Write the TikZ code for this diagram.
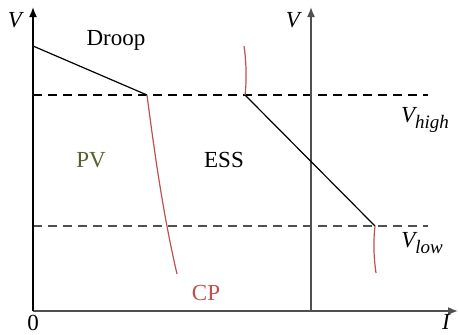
\documentclass[tikz,border=0pt]{standalone}
\usepackage{fontspec}
\setmainfont{Liberation Serif}
\usetikzlibrary{arrows.meta}

\definecolor{cpred}{RGB}{192,80,77}
\definecolor{pvolive}{RGB}{85,98,45}
\definecolor{axgray}{RGB}{80,80,80}

\begin{document}
\begin{tikzpicture}[x=0.5pt, y=0.5pt, font=\fontsize{11.5}{13}\selectfont,
  axis/.style={line width=0.8pt, -{Latex[length=5pt,width=4pt]}},
  level/.style={dashed, dash pattern=on 4.5pt off 3pt, line width=0.6pt},
  droop/.style={line width=0.6pt},
  cp/.style={cpred, line width=0.6pt}]

\useasboundingbox (0,0) rectangle (459,334);

% =============================================================================
% Droop / CP operating regions on the V-I plane
% =============================================================================

% --- Key points -------------------------------------------------------------
\coordinate (o)     at (33,23);
\coordinate (vtop)  at (33,327);
\coordinate (iend)  at (458,23);
\coordinate (essb)  at (311,23);
\coordinate (esst)  at (311,327);
\coordinate (d0)    at (33,288);   % droop start
\coordinate (pvk)   at (147,239);  % PV knee
\coordinate (pvend) at (177,60);
\coordinate (essh)  at (245,239);  % ESS at V_high
\coordinate (essl)  at (375,108);  % ESS at V_low
\coordinate (hiL)   at (33,239);
\coordinate (hiR)   at (428,239);
\coordinate (loL)   at (33,108);
\coordinate (loR)   at (428,108);

% --- Voltage thresholds -----------------------------------------------------
\draw[level] (hiL) -- (hiR);
\draw[level, axgray] (loL) -- (loR);

% --- Axes -------------------------------------------------------------------
\draw[axis, axgray] (o) -- (iend);
\draw[axis] (o) -- (vtop);
\draw[axis, axgray] (essb) -- (esst);

% --- Droop lines ------------------------------------------------------------
\draw[droop] (d0) -- (pvk);
\draw[droop] (essh) -- (essl);

% --- Constant-power branches ------------------------------------------------
\draw[cp] (pvk) .. controls (154,185) and (163,120) .. (pvend);
\draw[cp] (essh) .. controls (247,255) and (246,275) .. (244,288);
\draw[cp] (essl) .. controls (373,90) and (374,75) .. (376,61);

% --- Labels -----------------------------------------------------------------
\node (lv1)   at (15,314)  {\itshape V};
\node (lv2)   at (293,314) {\itshape V};
\node (lzero) at (33,11)   {0};
\node (li)    at (446,12)  {\itshape I};
\node (ldr)   at (116,294) {Droop};
\node[pvolive] (lpv) at (91,174) {PV};
\node (less)  at (224,174) {ESS};
\node[cpred] (lcp) at (206,41) {CP};
\node (lhigh) at (425,214) {\itshape V\raisebox{-0.6ex}{\fontsize{9.5}{11}\selectfont high}};
\node (llow)  at (422,91)  {\itshape V\raisebox{-0.6ex}{\fontsize{9.5}{11}\selectfont low}};

\end{tikzpicture}
\end{document}
